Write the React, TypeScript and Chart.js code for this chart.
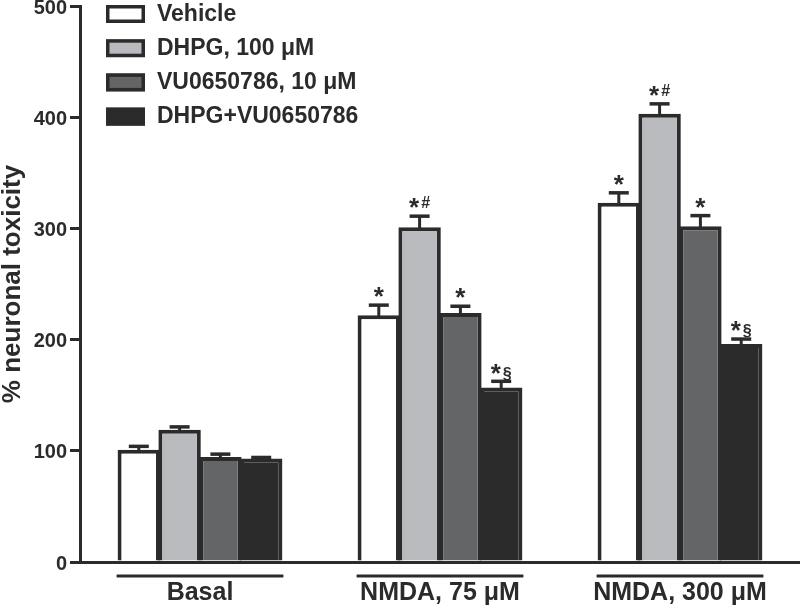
import React, { useEffect, useRef } from 'react';
import { Chart, registerables } from 'chart.js';

Chart.register(...registerables);

// ---- data ----
const categories = ['Basal', 'NMDA, 75 μM', 'NMDA, 300 μM'];
const seriesNames = ['Vehicle', 'DHPG, 100 μM', 'VU0650786, 10 μM', 'DHPG+VU0650786'];
const vehicle = [101, 222, 323];
const dhpg = [119, 301, 403];
const vu = [94.5, 224, 302];
const combo = [93, 157, 196];
const vehicleErr = [3, 9, 9];
const dhpgErr = [2.5, 10, 9];
const vuErr = [2.5, 6, 9.5];
const comboErr = [1, 5.5, 4.5];
const vehicleSig = ['', '*', '*'];
const dhpgSig = ['', '*#', '*#'];
const vuSig = ['', '*', '*'];
const comboSig = ['', '*§', '*§'];
const yTicks = [0, 100, 200, 300, 400, 500];
const yTitle = '% neuronal toxicity';

// ---- styles ----
const DARK = '#2b2b2b';
const FILLS = ['#ffffff', '#b9babd', '#646567', '#2b2b2b'];
const FONT = "'Liberation Sans', Arial, Helvetica, sans-serif";

export default function App() {
  const ref = useRef<HTMLCanvasElement>(null);

  useEffect(() => {
    const canvas = ref.current!;
    const values = [vehicle, dhpg, vu, combo];
    const errs = [vehicleErr, dhpgErr, vuErr, comboErr];
    const sigs = [vehicleSig, dhpgSig, vuSig, comboSig];

    const errorPlugin = {
      id: 'errorBars',
      afterDatasetsDraw(chart: any) {
        const ctx = chart.ctx;
        const y = chart.scales.y;
        ctx.save();
        chart.data.datasets.forEach((_ds: any, di: number) => {
          const meta = chart.getDatasetMeta(di);
          meta.data.forEach((el: any, i: number) => {
            const v = values[di][i];
            const e = errs[di][i];
            const top = y.getPixelForValue(v);
            const ep = y.getPixelForValue(v + e);
            ctx.strokeStyle = DARK;
            ctx.lineWidth = 3;
            ctx.beginPath();
            ctx.moveTo(el.x, top + 2);
            ctx.lineTo(el.x, ep);
            ctx.stroke();
            ctx.lineWidth = 3.5;
            ctx.beginPath();
            ctx.moveTo(el.x - 10, ep);
            ctx.lineTo(el.x + 10, ep);
            ctx.stroke();
            const s = sigs[di][i];
            if (s) {
              const capTop = ep - 1.75;
              const star = s.charAt(0);
              const suf = s.slice(1);
              ctx.fillStyle = DARK;
              ctx.textBaseline = 'alphabetic';
              ctx.textAlign = 'left';
              ctx.font = `bold 26px ${FONT}`;
              const sw = ctx.measureText(star).width;
              ctx.font = `bold 16px ${FONT}`;
              const fw = suf ? ctx.measureText(suf).width + 2 : 0;
              const x0 = el.x - (sw + fw) / 2;
              ctx.font = `bold 26px ${FONT}`;
              ctx.fillText(star, x0, capTop + 2);
              if (suf) {
                ctx.font = `bold 16px ${FONT}`;
                const off = suf === '#' ? -6 : -1;
                ctx.fillText(suf, x0 + sw + 2, capTop + off);
              }
            }
          });
        });
        ctx.restore();
      },
    };

    const groupPlugin = {
      id: 'groupLines',
      afterDraw(chart: any) {
        const ctx = chart.ctx;
        const first = chart.getDatasetMeta(0);
        const last = chart.getDatasetMeta(chart.data.datasets.length - 1);
        ctx.save();
        ctx.strokeStyle = DARK;
        ctx.lineWidth = 3;
        categories.forEach((_c, i) => {
          const a = first.data[i];
          const b = last.data[i];
          const l = a.x - a.width / 2 - 1;
          const r = b.x + b.width / 2 + 1;
          const yy = chart.chartArea.bottom + 14;
          ctx.beginPath();
          ctx.moveTo(l, yy);
          ctx.lineTo(r, yy);
          ctx.stroke();
        });
        ctx.restore();
      },
    };

    const legendPlugin = {
      id: 'customLegend',
      afterDraw(chart: any) {
        const ctx = chart.ctx;
        ctx.save();
        chart.data.datasets.forEach((ds: any, i: number) => {
          const bx = 106;
          const by = 5 + i * 34.2;
          ctx.fillStyle = ds.backgroundColor;
          ctx.fillRect(bx, by, 39, 18);
          ctx.strokeStyle = DARK;
          ctx.lineWidth = 3.5;
          ctx.strokeRect(bx + 1.75, by + 1.75, 39 - 3.5, 18 - 3.5);
          ctx.fillStyle = DARK;
          ctx.font = `bold 23px ${FONT}`;
          ctx.textBaseline = 'middle';
          ctx.textAlign = 'left';
          ctx.fillText(ds.label, 157, by + 9.5);
        });
        ctx.restore();
      },
    };

    const chart = new Chart(canvas, {
      type: 'bar',
      data: {
        labels: categories,
        datasets: seriesNames.map((name, i) => ({
          label: name,
          data: values[i],
          backgroundColor: FILLS[i],
          borderColor: DARK,
          borderWidth: 4,
          borderSkipped: 'start',
        })),
      },
      options: {
        animation: false,
        responsive: false,
        devicePixelRatio: 1,
        layout: { padding: { top: 6, left: 0, right: 0, bottom: 0 } },
        datasets: { bar: { categoryPercentage: 0.68, barPercentage: 1.04 } },
        plugins: { legend: { display: false }, tooltip: { enabled: false } },
        scales: {
          x: {
            grid: { display: false, drawTicks: false, tickLength: 0 },
            border: { display: true, width: 3, color: DARK },
            ticks: {
              color: DARK,
              font: { family: FONT, size: 25, weight: 'bold' },
              padding: 16,
            },
            afterFit: (s: any) => {
              s.height = 47;
              s.paddingLeft = 0;
              s.paddingRight = 0;
            },
          },
          y: {
            min: 0,
            max: 500,
            afterBuildTicks: (s: any) => {
              s.ticks = yTicks.map((v) => ({ value: v }));
            },
            ticks: {
              color: DARK,
              font: { family: FONT, size: 20, weight: 'bold' },
              padding: 3,
              labelOffset: 2,
            },
            grid: {
              drawOnChartArea: false,
              tickLength: 10,
              lineWidth: 3,
              color: DARK,
            },
            border: { display: true, width: 3, color: DARK },
            title: {
              display: true,
              text: yTitle,
              color: DARK,
              font: { family: FONT, size: 26, weight: 'bold', lineHeight: 1 },
              padding: 0,
            },
            afterFit: (s: any) => {
              s.width = 80;
              s.paddingTop = 0;
              s.paddingBottom = 0;
            },
          },
        },
      },
      plugins: [errorPlugin, groupPlugin, legendPlugin],
    } as any);

    return () => chart.destroy();
  }, []);

  return (
    <div style={{ position: 'fixed', left: 0, top: 0, width: 800, height: 609, background: '#fff' }}>
      <canvas ref={ref} width={800} height={609} style={{ width: 800, height: 609, display: 'block' }} />
    </div>
  );
}
